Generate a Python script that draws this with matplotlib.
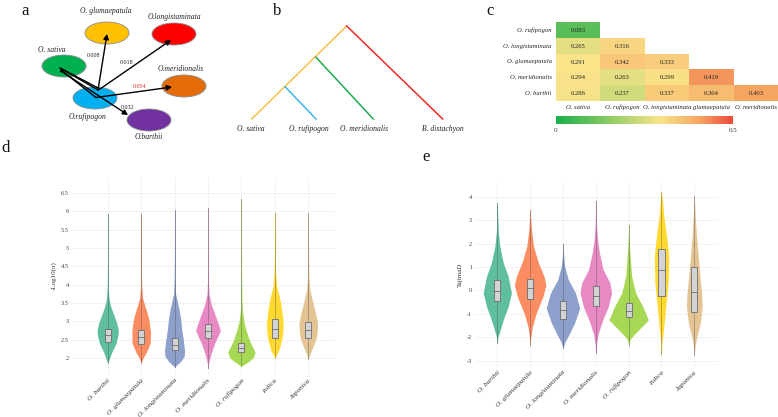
import numpy as np
import matplotlib
matplotlib.use("Agg")
import matplotlib.pyplot as plt
from matplotlib.patches import Ellipse, Rectangle, FancyArrowPatch
from matplotlib.colors import LinearSegmentedColormap, Normalize, to_rgb
from matplotlib.cm import ScalarMappable

plt.rcParams["font.family"] = ["Liberation Serif", "DejaVu Serif"]

# ---------------- panel a : network ----------------
net_nodes = ["O. glumaepatula", "O.longistaminata", "O. sativa", "O.rufipogon", "O.meridionalis", "O.barthii"]
net_colors = ["#FFC000", "#FF0000", "#00B050", "#00B0F0", "#E36C09", "#7030A0"]
edge_targets = ["O. glumaepatula", "O.longistaminata", "O.meridionalis", "O.barthii"]
edge_weights = ["0.008", "0.018", "0.054", "0.032"]
edge_weight_colors = ["#222222", "#222222", "#E02020", "#222222"]

# ---------------- panel b : tree ----------------
tree_tips = ["O. sativa", "O. rufipogon", "O. meridionalis", "B. distachyon"]

# ---------------- panel c : Fst heatmap ----------------
fst_rows = ["O. rufipogon", "O. longistaminata", "O. glumaepatula", "O. meridionalis", "O. barthii"]
fst_cols = ["O. sativa", "O. rufipogon", "O. longistaminata", "glumaepatula", "O. meridionalis"]
fst_rufipogon = [0.083]
fst_longistaminata = [0.265, 0.316]
fst_glumaepatula = [0.291, 0.342, 0.333]
fst_meridionalis = [0.294, 0.263, 0.299, 0.419]
fst_barthii = [0.286, 0.237, 0.337, 0.364, 0.403]

# ---------------- panels d / e : violins ----------------
vio_cats = ["O. barthii", "O. glumaepatula", "O. longistaminata", "O. meridionalis", "O. rufipogon", "indica", "Japonica"]
vio_colors = ["#5FBF9C", "#FC8D62", "#8DA0CB", "#E78AC3", "#A6D854", "#FFD92F", "#E5C494"]

# d : -log10(pi)  density outline (value, half width)
d_y = [
    [1.85, 2.0, 2.15, 2.4, 2.6, 2.75, 2.95, 3.2, 3.4, 3.6, 3.9, 4.5, 5.92],
    [1.86, 2.0, 2.14, 2.4, 2.7, 3.0, 3.2, 3.45, 3.65, 4.0, 4.5, 5.92],
    [1.75, 1.9, 2.05, 2.2, 2.5, 2.8, 3.0, 3.3, 3.5, 3.75, 4.2, 6.05],
    [1.71, 1.9, 2.14, 2.4, 2.6, 2.75, 2.95, 3.2, 3.45, 3.75, 4.2, 6.1],
    [1.77, 1.9, 2.0, 2.16, 2.3, 2.48, 2.75, 3.0, 3.3, 3.6, 4.2, 6.35],
    [2.0, 2.1, 2.21, 2.48, 2.7, 2.94, 3.21, 3.57, 3.93, 4.3, 5.0, 5.95],
    [1.96, 2.1, 2.21, 2.48, 2.7, 2.94, 3.21, 3.57, 3.85, 4.2, 5.0, 5.95],
]
d_w = [
    [0, 0.06, 0.12, 0.25, 0.30, 0.32, 0.27, 0.17, 0.09, 0.04, 0.015, 0.007, 0],
    [0, 0.06, 0.15, 0.27, 0.28, 0.24, 0.19, 0.10, 0.04, 0.015, 0.007, 0],
    [0, 0.18, 0.29, 0.30, 0.26, 0.21, 0.19, 0.14, 0.09, 0.03, 0.01, 0],
    [0, 0.03, 0.10, 0.20, 0.30, 0.37, 0.30, 0.20, 0.10, 0.03, 0.01, 0],
    [0, 0.22, 0.35, 0.41, 0.33, 0.24, 0.14, 0.07, 0.03, 0.015, 0.006, 0],
    [0, 0.06, 0.12, 0.20, 0.24, 0.25, 0.22, 0.16, 0.06, 0.025, 0.01, 0],
    [0, 0.05, 0.10, 0.22, 0.27, 0.28, 0.22, 0.12, 0.05, 0.02, 0.008, 0],
]
d_q1 = [2.42, 2.39, 2.21, 2.54, 2.15, 2.53, 2.53]
d_med = [2.62, 2.56, 2.35, 2.74, 2.27, 2.78, 2.75]
d_q3 = [2.80, 2.76, 2.53, 2.92, 2.40, 3.07, 2.98]
d_lo = [1.85, 1.86, 1.75, 1.71, 1.77, 2.0, 1.96]
d_hi = [5.92, 5.92, 6.05, 6.1, 6.35, 5.95, 5.95]
d_ticks = [2, 2.5, 3, 3.5, 4, 4.5, 5, 5.5, 6, 6.5]

# e : Tajima's D
e_y = [
    [-2.26, -2.0, -1.83, -1.26, -0.69, -0.11, 0.6, 1.18, 1.89, 2.5, 3.72],
    [-2.33, -2.0, -1.56, -0.99, -0.26, 0.24, 0.6, 1.18, 1.89, 2.6, 3.43],
    [-2.47, -2.2, -1.97, -1.4, -0.76, -0.11, 0.46, 1.03, 1.5, 1.96],
    [-2.69, -2.2, -1.83, -1.26, -0.69, -0.11, 0.32, 0.89, 1.6, 2.17, 2.8, 3.82],
    [-2.33, -2.1, -1.97, -1.69, -1.26, -0.69, -0.11, 0.6, 1.75, 2.78],
    [-2.72, -2.33, -1.83, -1.12, -0.4, 0.32, 1.32, 1.75, 2.46, 3.18, 3.89, 4.18],
    [-2.76, -2.33, -1.97, -1.4, -0.69, -0.11, 0.6, 1.75, 2.46, 3.18, 4.03],
]
e_w = [
    [0, 0.02, 0.06, 0.18, 0.33, 0.43, 0.33, 0.18, 0.075, 0.03, 0],
    [0, 0.02, 0.065, 0.18, 0.39, 0.48, 0.42, 0.25, 0.10, 0.04, 0],
    [0, 0.06, 0.15, 0.35, 0.51, 0.38, 0.16, 0.05, 0.02, 0],
    [0, 0.03, 0.076, 0.21, 0.38, 0.48, 0.43, 0.22, 0.11, 0.05, 0.02, 0],
    [0, 0.04, 0.11, 0.30, 0.60, 0.43, 0.21, 0.09, 0.03, 0],
    [0, 0.01, 0.05, 0.10, 0.15, 0.20, 0.22, 0.20, 0.14, 0.07, 0.03, 0],
    [0, 0.03, 0.08, 0.18, 0.24, 0.22, 0.17, 0.10, 0.06, 0.03, 0],
]
e_q1 = [-0.47, -0.36, -1.23, -0.66, -1.14, -0.23, -0.94]
e_med = [-0.03, 0.09, -0.85, -0.23, -0.90, 0.89, -0.07]
e_q3 = [0.46, 0.50, -0.47, 0.20, -0.54, 1.77, 1.00]
e_lo = [-2.26, -2.33, -2.47, -2.69, -2.33, -2.72, -2.76]
e_hi = [3.72, 3.43, 1.96, 3.82, 2.78, 4.18, 4.03]
e_ticks = [-3, -2, -1, 0, 1, 2, 3, 4]

W, H = 778, 417
fig = plt.figure(figsize=(W / 100, H / 100), dpi=100)


def frac(left, top, right, bottom):
    return [left / W, 1 - bottom / H, (right - left) / W, (bottom - top) / H]


# ---------- overlay axis in pixel coordinates for a, b and letters ----------
ax0 = fig.add_axes([0, 0, 1, 1])
ax0.set_xlim(0, W)
ax0.set_ylim(H, 0)
ax0.axis("off")

# panel a
node_xy = {"O. glumaepatula": (107, 33), "O.longistaminata": (174, 34), "O. sativa": (64, 66),
           "O.rufipogon": (95, 98), "O.meridionalis": (184, 86), "O.barthii": (149, 120)}
label_xy = {"O. glumaepatula": (106, 11), "O.longistaminata": (174, 17), "O. sativa": (52, 50),
            "O.rufipogon": (88, 117), "O.meridionalis": (181, 69), "O.barthii": (149, 137)}
for name, col in zip(net_nodes, net_colors):
    cx, cy = node_xy[name]
    ax0.add_patch(Ellipse((cx, cy), 44, 22, fc=col, ec="#8A8A8A", lw=0.6, zorder=2))
    lx, ly = label_xy[name]
    ax0.text(lx, ly, name, ha="center", va="center", fontsize=5.5, style="italic", color="#222222")

starts = [(98, 90), (100, 89), (96, 97.5), (61, 71)]
ends = [(107, 34), (171, 40), (172, 87), (128, 115)]
sat_starts = [(60, 68), (62, 69), (61, 70), (60, 71)]
for s0, s, e in zip(sat_starts, starts, ends):
    ax0.plot([s0[0], s[0]], [s0[1], s[1]], color="black", lw=1.0, zorder=3)
    ax0.add_patch(FancyArrowPatch(s, e, arrowstyle="-|>,head_length=3,head_width=1.6",
                                  color="black", lw=1.0, zorder=4, shrinkA=0, shrinkB=0))
wt_xy = [(94, 55), (127, 62), (140, 86), (127, 107)]
for (tx, ty), wt, wc in zip(wt_xy, edge_weights, edge_weight_colors):
    ax0.text(tx, ty, wt, ha="center", va="center", fontsize=4.3, color=wc, zorder=5)

# panel b : tree
tip_x = [251.7, 316, 373.3, 442.7]
tip_y = 119
root = (346.7, 26)
node_mer = (316, 57.3)
node_ruf = (285, 86.7)
ax0.plot([root[0], tip_x[0]], [root[1], tip_y], color="#F5C242", lw=1.1)
ax0.plot([root[0], tip_x[3]], [root[1], tip_y], color="#EE2A24", lw=1.1)
ax0.plot([node_mer[0], tip_x[2]], [node_mer[1], tip_y], color="#1DAA4F", lw=1.1)
ax0.plot([node_ruf[0], tip_x[1]], [node_ruf[1], tip_y], color="#3DB7E9", lw=1.1)
for tx, name in zip([251, 309, 364, 442.7], tree_tips):
    ax0.text(tx, 129, name, ha="center", va="center", fontsize=5.5, style="italic", color="#222222")

# panel letters
for letter, (lx, ly) in zip("abcde", [(25, 11), (277, 11), (490, 11), (6, 148), (426, 157)]):
    ax0.text(lx, ly, letter, ha="center", va="center", fontsize=12, color="#111111")

# ---------- panel c : heatmap ----------
fst_lists = [fst_rufipogon, fst_longistaminata, fst_glumaepatula, fst_meridionalis, fst_barthii]
mat = np.full((5, 5), np.nan)
for i, row in enumerate(fst_lists):
    mat[i, :len(row)] = row
cmap = LinearSegmentedColormap.from_list(
    "gyr", [(0, "#1AAF4B"), (0.3, "#8CCB62"), (0.58, "#F9E48A"), (0.8, "#F6A963"), (1, "#EE4A3B")])
norm = Normalize(0, 0.5)
axc = fig.add_axes(frac(556, 22.3, 778, 100.7))
axc.pcolormesh(np.arange(6), np.arange(6), np.ma.masked_invalid(mat), cmap=cmap, norm=norm,
               edgecolors="none")
axc.set_xlim(0, 5)
axc.set_ylim(5, 0)
for i, row in enumerate(fst_lists):
    for j, v in enumerate(row):
        axc.text(j + 0.5, i + 0.55, f"{v:.3f}", ha="center", va="center", fontsize=4.8, color="#222222")
axc.set_yticks(np.arange(5) + 0.5)
axc.set_yticklabels(fst_rows, fontsize=4.8, style="italic", color="#222222")
axc.set_xticks(np.arange(5) + 0.5)
axc.set_xticklabels(fst_cols, fontsize=4.8, style="italic", color="#222222")
axc.tick_params(length=0, pad=3)
for s in axc.spines.values():
    s.set_visible(False)

axcb = fig.add_axes(frac(556, 116, 733, 124))
cb = fig.colorbar(ScalarMappable(norm=norm, cmap=cmap), cax=axcb, orientation="horizontal")
cb.set_ticks([0, 0.5])
cb.set_ticklabels(["0", "0.5"])
cb.outline.set_visible(False)
axcb.tick_params(length=0, labelsize=5, pad=3, labelcolor="#333333")


# ---------- panels d / e : violins ----------
def shade(c, f=0.55):
    r, g, b = to_rgb(c)
    g0 = 0.3
    return (r * f + g0 * (1 - f), g * f + g0 * (1 - f), b * f + g0 * (1 - f))


def violin_panel(ax, ys, ws, q1, med, q3, lo, hi, ticks, ylim, xlim, ylabel, box_w):
    for i in range(len(vio_cats)):
        x = i + 1
        yy = np.array(ys[i])
        ww = np.array(ws[i])
        ax.fill_betweenx(yy, x - ww, x + ww, color=vio_colors[i], lw=0, zorder=2)
        ax.plot([x, x], [lo[i], hi[i]], color=shade(vio_colors[i]), lw=0.6, zorder=3)
        ax.add_patch(Rectangle((x - box_w / 2, q1[i]), box_w, q3[i] - q1[i], fc="#D3D3D3",
                               ec="#6E6E6E", lw=0.6, zorder=4))
        ax.plot([x - box_w / 2, x + box_w / 2], [med[i], med[i]], color="#6E6E6E", lw=0.6, zorder=5)
    ax.set_xlim(*xlim)
    ax.set_ylim(*ylim)
    ax.set_yticks(ticks)
    ax.set_yticklabels([f"{t:g}" for t in ticks], fontsize=4.6, color="#444444")
    ax.set_xticks(np.arange(1, len(vio_cats) + 1))
    ax.set_xticklabels(vio_cats, rotation=45, ha="right", va="top", rotation_mode="anchor",
                       fontsize=5.2, style="italic", color="#333333")
    ax.tick_params(length=0, pad=2)
    ax.grid(True, color="#EDEDED", lw=0.5)
    ax.set_axisbelow(True)
    for s in ax.spines.values():
        s.set_visible(False)
    ax.set_ylabel(ylabel, fontsize=5, color="#333333", labelpad=3)


axd = fig.add_axes(frac(71.7, 176.7, 335, 375))
violin_panel(axd, d_y, d_w, d_q1, d_med, d_q3, d_lo, d_hi, d_ticks,
             (1.53, 6.95), (-0.078, 7.8), "-Log10(π)", 0.18)

axe = fig.add_axes(frac(475, 183.3, 718.3, 367))
violin_panel(axe, e_y, e_w, e_q1, e_med, e_q3, e_lo, e_hi, e_ticks,
             (-3.27, 4.57), (0.32, 7.73), "TajimaD", 0.19)

fig.savefig("out.png", dpi=100)
